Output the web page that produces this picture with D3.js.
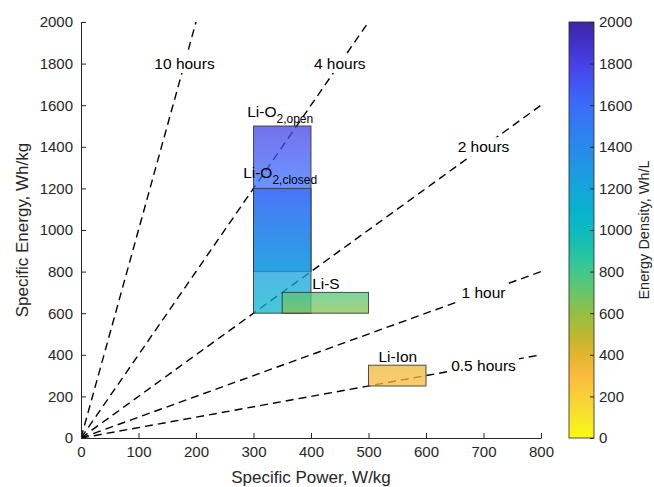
<!DOCTYPE html>
<html>
<head>
<meta charset="utf-8">
<script src="https://cdn.jsdelivr.net/npm/d3@7"></script>
<style>
  body { margin: 0; background: #fff; }
  svg text { font-family: "Liberation Sans", Arial, sans-serif; }
</style>
</head>
<body>
<div id="chart"></div>
<script>
// discharge time lines (E = P * t)
const hours = [10, 4, 2, 1, 0.5];
const hourLabels = ["10 hours", "4 hours", "2 hours", "1 hour", "0.5 hours"];
const hourLabelPower = [180, 450, 700, 700, 700];

// battery patches
const batteries = ["Li-O2,open", "Li-O2,closed", "Li-S", "Li-Ion"];
const powerMin = [300, 300, 350, 500];
const powerMax = [400, 400, 500, 600];
const energyMin = [800, 600, 600, 250];
const energyMax = [1500, 1200, 700, 350];
const densityTop = [1800, 1620, 760, 360];
const densityBottom = [1250, 1060, 620, 300];
const labelMain = ["Li-O", "Li-O", "Li-S", "Li-Ion"];
const labelSub = ["2,open", "2,closed", "", ""];
const labelPower = [289, 282, 402, 551];
const labelEnergy = [1545, 1250, 716, 365];
const labelAnchor = ["start", "start", "start", "middle"];

// axes ticks
const powerTicks = [0, 100, 200, 300, 400, 500, 600, 700, 800];
const energyTicks = [0, 200, 400, 600, 800, 1000, 1200, 1400, 1600, 1800, 2000];
const densityTicks = [0, 200, 400, 600, 800, 1000, 1200, 1400, 1600, 1800, 2000];

// colormap (flipped parula), energy density -> colour
const cmapValues = [0, 150, 300, 400, 500, 600, 700, 800, 900, 1000, 1100, 1200, 1300, 1400, 1500, 1600, 1700, 1800, 1900, 2000];
const cmapColors = ["#f9fb15", "#f7d932", "#fcbb3e", "#e1b52c", "#bbb930", "#93bf43", "#68c66a", "#3fc98c",
                    "#20c2a8", "#0cbac0", "#08b1cf", "#14a6da", "#1e98e3", "#2889ea", "#327bf2", "#3b6cf8",
                    "#4256f5", "#4640e5", "#4231c8", "#3e26a8"];

const W = 654, H = 487;
const margin = { left: 81, right: 113, top: 22, bottom: 49 };
const plotW = W - margin.left - margin.right;   // 460
const plotH = H - margin.top - margin.bottom;   // 416
const axisColor = "#262626";
const fmt = d3.format("d");

const color = d3.scaleLinear().domain(cmapValues).range(cmapColors).interpolate(d3.interpolateRgb);

const svg = d3.select("#chart").append("svg")
    .attr("width", W)
    .attr("height", H);

const defs = svg.append("defs");

const x = d3.scaleLinear().domain([0, 800]).range([0, plotW]);
const y = d3.scaleLinear().domain([0, 2000]).range([plotH, 0]);

const g = svg.append("g")
    .attr("transform", `translate(${margin.left},${margin.top})`);

defs.append("clipPath").attr("id", "plotClip")
  .append("rect")
    .attr("x", 0).attr("y", 0)
    .attr("width", plotW).attr("height", plotH);

// dashed lines
const lines = g.append("g").attr("clip-path", "url(#plotClip)");
hours.forEach(t => {
  lines.append("line")
      .attr("x1", x(0)).attr("y1", y(0))
      .attr("x2", x(800)).attr("y2", y(t * 800))
      .attr("stroke", "#000")
      .attr("stroke-width", 1.4)
      .attr("stroke-dasharray", "8,5");
});

// hour labels with white background
hours.forEach((t, i) => {
  const p = hourLabelPower[i];
  const lg = g.append("g");
  const txt = lg.append("text")
      .attr("x", x(p))
      .attr("y", y(t * p))
      .attr("dy", "0.35em")
      .attr("text-anchor", "middle")
      .attr("font-size", "15.5px")
      .attr("fill", "#000")
      .text(hourLabels[i]);
  const bb = txt.node().getBBox();
  lg.insert("rect", "text")
      .attr("x", bb.x - 3).attr("y", bb.y - 1)
      .attr("width", bb.width + 6).attr("height", bb.height + 2)
      .attr("fill", "#fff");
});

// patches with vertical colour gradient
batteries.forEach((b, i) => {
  const grad = defs.append("linearGradient")
      .attr("id", "grad" + i)
      .attr("x1", 0).attr("y1", 0).attr("x2", 0).attr("y2", 1);
  d3.range(0, 1.0001, 0.125).forEach(o => {
    grad.append("stop")
        .attr("offset", o)
        .attr("stop-color", color(densityTop[i] + (densityBottom[i] - densityTop[i]) * o));
  });
  g.append("rect")
      .attr("x", x(powerMin[i]))
      .attr("y", y(energyMax[i]))
      .attr("width", x(powerMax[i]) - x(powerMin[i]))
      .attr("height", y(energyMin[i]) - y(energyMax[i]))
      .attr("fill", `url(#grad${i})`)
      .attr("fill-opacity", 0.75)
      .attr("stroke", "#333")
      .attr("stroke-opacity", 0.85)
      .attr("stroke-width", 1);
});

// patch labels
batteries.forEach((b, i) => {
  const t = g.append("text")
      .attr("x", x(labelPower[i]))
      .attr("y", y(labelEnergy[i]))
      .attr("text-anchor", labelAnchor[i])
      .attr("font-size", "15.5px")
      .attr("fill", "#000");
  t.append("tspan").text(labelMain[i]);
  if (labelSub[i]) {
    t.append("tspan")
        .attr("font-size", "12px")
        .attr("dy", 6)
        .text(labelSub[i]);
  }
});

// x axis
const xAxis = g.append("g")
    .attr("transform", `translate(0,${plotH})`)
    .call(d3.axisBottom(x).tickValues(powerTicks).tickFormat(fmt)
      .tickSizeInner(-5).tickSizeOuter(0).tickPadding(8));
// y axis
const yAxis = g.append("g")
    .call(d3.axisLeft(y).tickValues(energyTicks).tickFormat(fmt)
      .tickSizeInner(-5).tickSizeOuter(0).tickPadding(8));

[xAxis, yAxis].forEach(a => {
  a.selectAll("path").attr("stroke", axisColor);
  a.selectAll("line").attr("stroke", axisColor);
  a.selectAll("text")
      .attr("font-size", "15px")
      .attr("fill", axisColor)
      .attr("font-family", "'Liberation Sans', Arial, sans-serif");
});

svg.append("text")
    .attr("x", margin.left + plotW / 2)
    .attr("y", 483)
    .attr("text-anchor", "middle")
    .attr("font-size", "17px")
    .attr("fill", axisColor)
    .text("Specific Power, W/kg");

svg.append("text")
    .attr("transform", `translate(28,${margin.top + plotH / 2}) rotate(-90)`)
    .attr("text-anchor", "middle")
    .attr("font-size", "17px")
    .attr("fill", axisColor)
    .text("Specific Energy, Wh/kg");

// colorbar
const cbX = 569, cbW = 25;
const cb = d3.scaleLinear().domain([0, 2000]).range([margin.top + plotH, margin.top]);
const cbGrad = defs.append("linearGradient")
    .attr("id", "cbGrad")
    .attr("x1", 0).attr("y1", 1).attr("x2", 0).attr("y2", 0);
cmapValues.forEach(v => {
  cbGrad.append("stop")
      .attr("offset", v / 2000)
      .attr("stop-color", color(v));
});
svg.append("rect")
    .attr("x", cbX).attr("y", margin.top)
    .attr("width", cbW).attr("height", plotH)
    .attr("fill", "url(#cbGrad)")
    .attr("stroke", axisColor)
    .attr("stroke-width", 0.8);

const cbAxis = svg.append("g")
    .attr("transform", `translate(${cbX + cbW},0)`)
    .call(d3.axisRight(cb).tickValues(densityTicks).tickFormat(fmt)
      .tickSizeInner(-4).tickSizeOuter(0).tickPadding(5));
cbAxis.select(".domain").remove();
cbAxis.selectAll("line").attr("stroke", axisColor);
cbAxis.selectAll("text")
    .attr("font-size", "15px")
    .attr("fill", axisColor)
    .attr("font-family", "'Liberation Sans', Arial, sans-serif");

svg.append("text")
    .attr("transform", `translate(649,${margin.top + plotH / 2}) rotate(-90)`)
    .attr("text-anchor", "middle")
    .attr("font-size", "14.5px")
    .attr("fill", axisColor)
    .text("Energy Density, Wh/L");
</script>
</body>
</html>
